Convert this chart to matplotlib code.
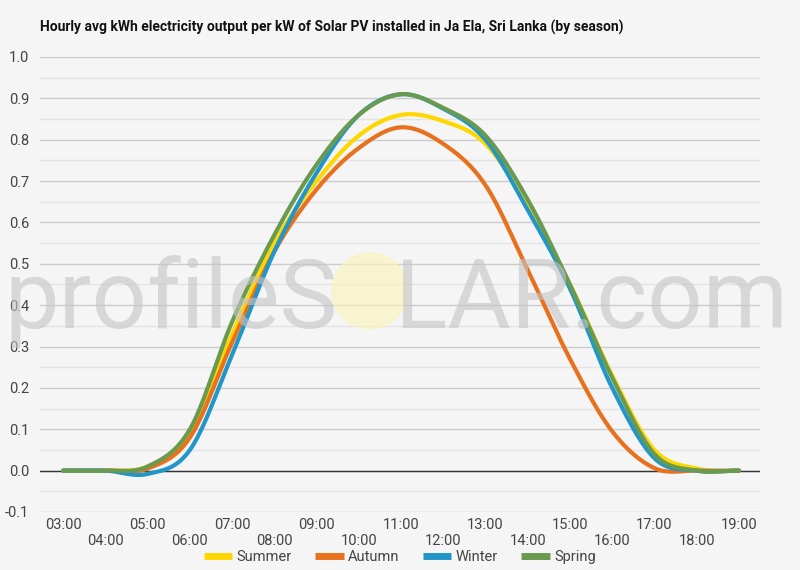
import numpy as np
import matplotlib
matplotlib.use('Agg')
from matplotlib import pyplot as plt
from matplotlib.patches import Ellipse

plt.rcParams['font.family'] = ['Roboto', 'DejaVu Sans']

# Datos horarios (kWh por kW instalado)
horas = [3, 4, 5, 6, 7, 8, 9, 10, 11, 12, 13, 14, 15, 16, 17, 18, 19]
etiquetas = ['%02d:00' % h for h in horas]

verano = [0, 0, 0.01, 0.09, 0.33, 0.55, 0.70, 0.81, 0.86, 0.845, 0.79, 0.64, 0.45, 0.23, 0.05, 0.005, 0]
otono = [0, 0, 0.005, 0.08, 0.31, 0.53, 0.68, 0.78, 0.83, 0.79, 0.69, 0.485, 0.27, 0.095, 0.006, 0, 0]
invierno = [0, 0, -0.008, 0.05, 0.28, 0.53, 0.72, 0.86, 0.91, 0.875, 0.80, 0.63, 0.44, 0.20, 0.03, 0, 0]
primavera = [0, 0, 0.01, 0.10, 0.36, 0.57, 0.74, 0.86, 0.91, 0.877, 0.81, 0.655, 0.45, 0.225, 0.04, 0, 0]

series = [('Summer', verano, '#ffd700'),
          ('Autumn', otono, '#e8711e'),
          ('Winter', invierno, '#2196c8'),
          ('Spring', primavera, '#6a9a50')]


def curva_suave(x, y, n=20):
    # Catmull-Rom para dibujar la linea suavizada entre los puntos
    x = np.asarray(x, float)
    y = np.asarray(y, float)
    xs, ys = [], []
    for i in range(len(x) - 1):
        y0 = y[i - 1] if i > 0 else y[i]
        y3 = y[i + 2] if i + 2 < len(y) else y[i + 1]
        y1, y2 = y[i], y[i + 1]
        t = np.linspace(0, 1, n, endpoint=False)
        yy = 0.5 * ((2 * y1) + (-y0 + y2) * t + (2 * y0 - 5 * y1 + 4 * y2 - y3) * t ** 2
                    + (-y0 + 3 * y1 - 3 * y2 + y3) * t ** 3)
        xs.append(x[i] + t * (x[i + 1] - x[i]))
        ys.append(yy)
    xs.append([x[-1]])
    ys.append([y[-1]])
    return np.concatenate(xs), np.concatenate(ys)


fondo = '#f5f5f5'
fig = plt.figure(figsize=(8, 5.7), dpi=100, facecolor=fondo)
ax = fig.add_axes([0.05, 0.1018, 0.90, 0.7982], facecolor=fondo)

ax.set_ylim(-0.1, 1.0)
ax.set_xlim(2.45, 19.5)
ax.set_yticks(np.arange(-0.1, 1.01, 0.1))
ax.set_yticklabels(['%.1f' % v for v in np.arange(-0.1, 1.01, 0.1)])
ax.set_yticks(np.arange(-0.05, 1.0, 0.1), minor=True)
ax.grid(which='major', axis='y', color='#cccccc', linewidth=1)
ax.grid(which='minor', axis='y', color='#e4e4e4', linewidth=1)
ax.axhline(0, color='#333333', linewidth=1, zorder=2)
ax.set_xticks(horas)
ax.set_xticklabels([e if i % 2 == 0 else '\n' + e for i, e in enumerate(etiquetas)])
ax.tick_params(axis='both', which='both', length=0, labelsize=10.5, labelcolor='#444444')
ax.tick_params(axis='x', pad=4)
ax.tick_params(axis='y', pad=8)
for s in ax.spines.values():
    s.set_visible(False)

for nombre, valores, color in series:
    xs, ys = curva_suave(horas, valores)
    ax.plot(xs, ys, color=color, linewidth=3, label=nombre, zorder=3, solid_capstyle='round')

leg = ax.legend(loc='center', bbox_to_anchor=(0.5, -0.099), ncol=4, frameon=False,
                fontsize=10.5, handlelength=1.95, columnspacing=1.6, handletextpad=0.3)
for linea in leg.get_lines():
    linea.set_linewidth(5)
    linea.set_solid_capstyle('butt')
for txt in leg.get_texts():
    txt.set_color('#444444')

fig.text(0.05, 0.951, 'Hourly avg kWh electricity output per kW of Solar PV installed in Ja Ela, Sri Lanka (by season)',
         fontsize=10, fontweight='bold', color='#111111', ha='left', va='center')

# Marca de agua
fig.text(0.006, 0.425, 'profileS', fontsize=70, color='#c4c4c4', alpha=0.6, ha='left',
         va='baseline', zorder=10)
fig.text(0.985, 0.425, 'LAR.com', fontsize=70, color='#c4c4c4', alpha=0.6, ha='right',
         va='baseline', zorder=10)
sol = Ellipse((0.4625, 0.49), 0.095, 0.133, transform=fig.transFigure, color='#fbf4b8',
              alpha=0.6, zorder=10)
fig.add_artist(sol)

fig.savefig('out.png', dpi=100, facecolor=fondo)
